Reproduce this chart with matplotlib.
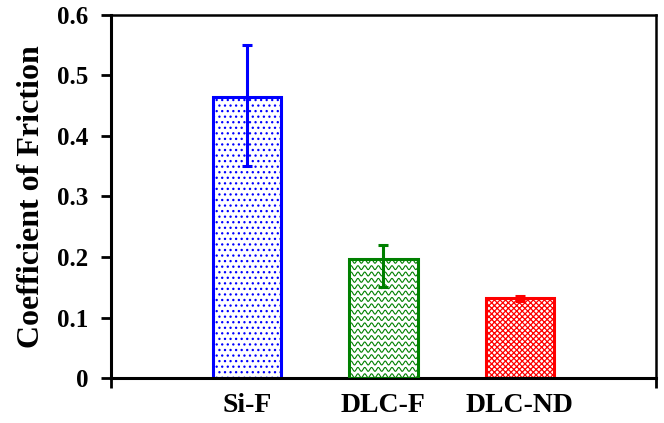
import numpy as np
import matplotlib
matplotlib.use("Agg")
import matplotlib.pyplot as plt

categories = ["Si-F", "DLC-F", "DLC-ND"]
cof = [0.465, 0.197, 0.132]
err_low = [0.115, 0.047, 0.004]
err_high = [0.085, 0.023, 0.004]
colors = ["#0000ff", "#008000", "#ff0000"]
hatches = ["...", "", "xxxxxx"]
yticks = [0, 0.1, 0.2, 0.3, 0.4, 0.5, 0.6]
ytick_labels = ["0", "0.1", "0.2", "0.3", "0.4", "0.5", "0.6"]

plt.rcParams["font.family"] = ["Liberation Serif", "DejaVu Serif"]
plt.rcParams["font.weight"] = "bold"
plt.rcParams["hatch.linewidth"] = 0.9

fig = plt.figure(figsize=(6.64, 4.23), dpi=100)
ax = fig.add_axes([0.167, 0.106, 0.821, 0.859])

x = np.arange(1, len(categories) + 1)
bars = ax.bar(x, cof, width=0.5, facecolor="white", edgecolor=colors,
              linewidth=2.2, zorder=2)
for b, h in zip(bars, hatches):
    b.set_hatch(h)

# wavy fill for the DLC-F bar, clipped to the bar
b = bars[1]
x0, w, hgt = b.get_x(), b.get_width(), b.get_height()
xs = np.linspace(x0 - 0.05, x0 + w + 0.05, 400)
for yy in np.arange(0.004, hgt, 0.0105):
    ln, = ax.plot(xs, yy + 0.0032 * np.sin(2 * np.pi * xs / 0.05),
                  color="#008000", lw=0.8, zorder=2.5)
    ln.set_clip_path(b)
ax.bar(x[1], cof[1], width=0.5, facecolor="none", edgecolor=colors[1],
       linewidth=2.0, zorder=3)

for xi, v, lo, hi, c in zip(x, cof, err_low, err_high, colors):
    ax.errorbar(xi, v, yerr=[[lo], [hi]], fmt="none", ecolor=c, elinewidth=2.2,
                capsize=3.5, capthick=2.2, zorder=4)

ax.set_xlim(0, 4)
ax.set_ylim(0, 0.6)
ax.set_yticks(yticks)
ax.set_yticklabels(ytick_labels, fontsize=18, fontweight="bold")
ax.set_xticks(x)
ax.set_xticklabels(categories, fontsize=20, fontweight="bold")
ax.set_xticks([0, 4], minor=True)
ax.tick_params(axis="x", which="major", length=0, pad=11)
ax.tick_params(axis="x", which="minor", length=7, width=2, direction="out")
ax.tick_params(axis="y", length=7, width=2, direction="out", pad=9)
ax.set_ylabel("Coefficient of Friction", fontsize=23, fontweight="bold",
              labelpad=8)

for s in ["left", "bottom"]:
    ax.spines[s].set_linewidth(2.2)
for s in ["top", "right"]:
    ax.spines[s].set_linewidth(1.8)

fig.savefig("out.png", dpi=100)
